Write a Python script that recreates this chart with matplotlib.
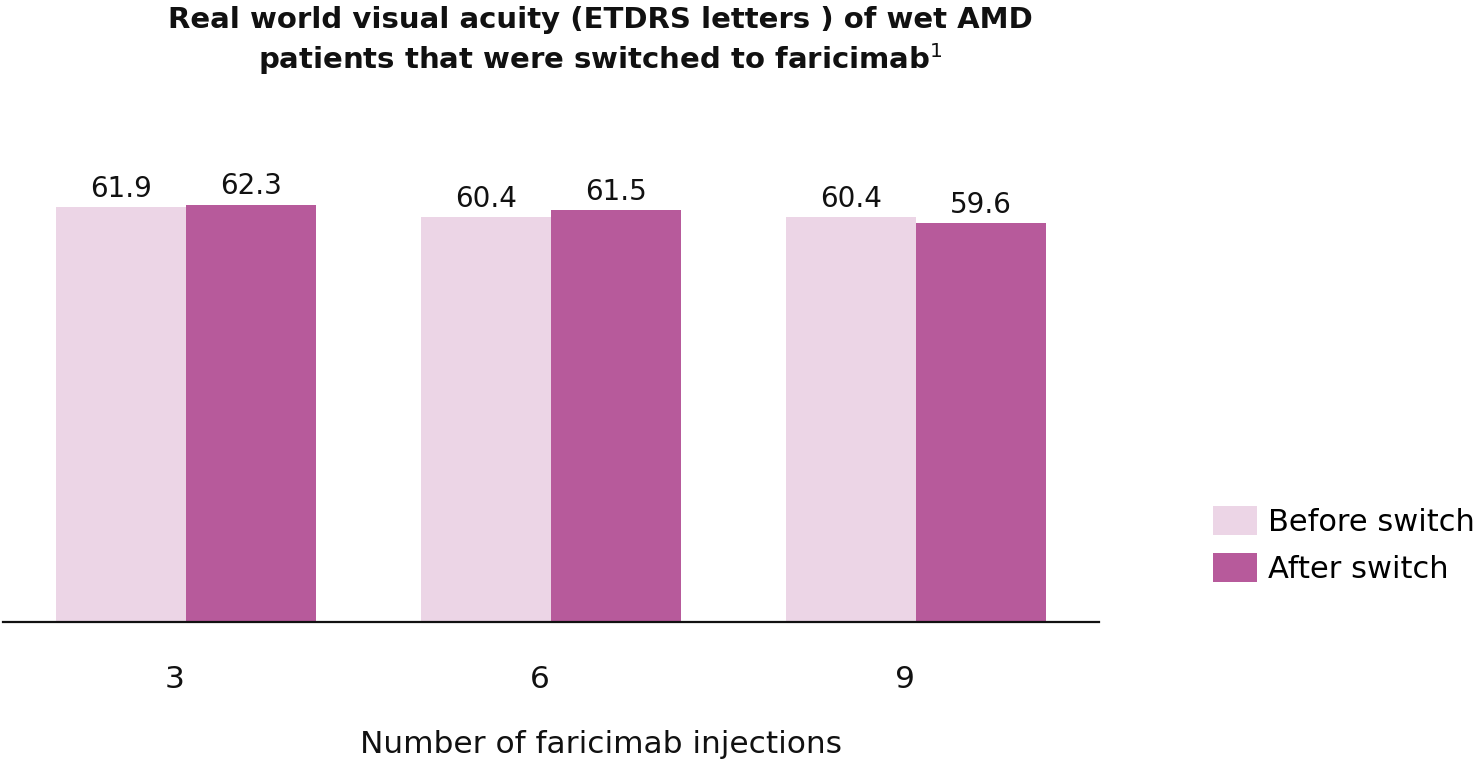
import matplotlib
matplotlib.use("Agg")
import matplotlib.pyplot as plt
import matplotlib.transforms as mtransforms
import numpy as np

plt.rcParams['font.family'] = ['DejaVu Sans']

categories = ["3", "6", "9"]
before = [61.9, 60.4, 60.4]
after = [62.3, 61.5, 59.6]
series_names = ["Before switch", "After switch"]
title = "Real world visual acuity (ETDRS letters ) of wet AMD\npatients that were switched to faricimab$^{1}$"
xlabel = "Number of faricimab injections"

c_before = "#ECD5E6"
c_after = "#B75A9B"
txt = "#111111"

W, H = 1477, 761
fig = plt.figure(figsize=(W / 100, H / 100), dpi=100)
ax = fig.add_axes([3 / W, (H - 622) / H, (1099 - 3) / W, (622 - 100) / H])

x = np.arange(len(categories))
bw = 130 / 365.5
b1 = ax.bar(x - bw / 2, before, bw, color=c_before, label=series_names[0])
b2 = ax.bar(x + bw / 2, after, bw, color=c_after, label=series_names[1])

for bars, vals in ((b1, before), (b2, after)):
    for r, v in zip(bars, vals):
        ax.annotate(f"{v:.1f}", (r.get_x() + r.get_width() / 2, v),
                    xytext=(0, 3), textcoords="offset points",
                    ha="center", va="bottom", fontsize=20, color=txt)

ax.set_xlim(-0.5, 2.5)
ax.set_ylim(0, 522 / 6.70)
for s in ("top", "right", "left"):
    ax.spines[s].set_visible(False)
ax.spines["bottom"].set_linewidth(1.6)
ax.spines["bottom"].set_color(txt)
ax.set_yticks([])
ax.set_xticks(x)
ax.set_xticklabels(categories, fontsize=22.5, color=txt)
ax.tick_params(axis="x", length=0, pad=31)
shift = mtransforms.ScaledTranslation(-11.5 / 100, 0, fig.dpi_scale_trans)
for lab in ax.get_xticklabels():
    lab.set_transform(lab.get_transform() + shift)

fig.text(601 / W, 1 - 753 / H, xlabel, ha="center", va="baseline",
         fontsize=22.5, color=txt)

fig.text(600 / W, 1 - 6 / H, title, ha="center", va="top", fontsize=21,
         fontweight="bold", color=txt, linespacing=1.25)

leg = fig.legend(loc="center left", bbox_to_anchor=(1213 / W, 1 - 545 / H),
                 frameon=False, fontsize=22, handlelength=1.44, handleheight=1.08,
                 handletextpad=0.36, labelspacing=0.5, borderaxespad=0,
                 borderpad=0)

fig.savefig("out.png", dpi=100)
